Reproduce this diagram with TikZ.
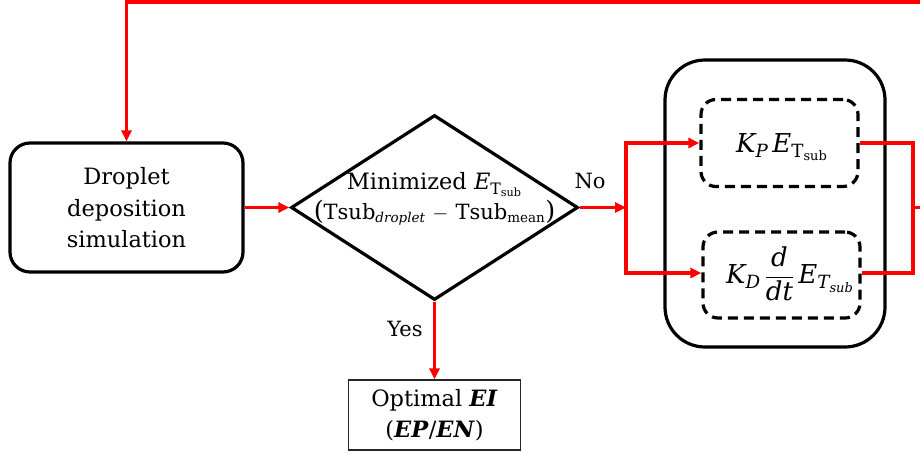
\documentclass[tikz,border=0pt]{standalone}
\usepackage{fontspec}
\setmainfont{DejaVu Serif}
\usetikzlibrary{arrows.meta,shapes.geometric}
\newcommand{\smallsub}[1]{\mbox{\fontsize{13.5}{15}\selectfont #1}}
\newcommand{\bigparen}[1]{\mbox{\fontsize{25.5}{30}\selectfont #1}}
\tikzset{
  blk/.style={draw=black, line width=3.2pt},
  roundbox/.style={blk, rounded corners=20pt, inner sep=0pt},
  dashbox/.style={draw=black, line width=3.2pt, dash pattern=on 10pt off 6pt, rounded corners=15pt, inner sep=0pt},
  flow/.style={draw=red, line width=3.2pt},
  flowarr/.style={flow, -{Triangle[length=11pt,width=10pt]}},
  txt/.style={font=\fontsize{22.5}{31.5}\selectfont, align=center, inner sep=0pt},
  mtxt/.style={font=\fontsize{26}{31.5}\selectfont, align=center, inner sep=0pt},
  lbl/.style={font=\fontsize{21}{26}\selectfont, inner sep=0pt}
}
\begin{document}
\begin{tikzpicture}[x=1pt,y=-1pt]
\useasboundingbox (0,0) rectangle (920,453);
% nodes
\node[roundbox, minimum width=233pt, minimum height=129pt] (sim) at (126.5,207.5) {};
\node[txt] (simtxt) at (126.5,208) {Droplet\\deposition\\simulation};
\node[blk, diamond, minimum width=287pt, minimum height=185pt, aspect=1.55, inner sep=0pt] (dec) at (434.5,207.5) {};
\node[txt] (dectxt) at (434.5,199) {Minimized $\mathit{E}_{\mathrm{T}_{\mathrm{sub}}}$\\[-2pt]{\fontsize{21}{31.5}\selectfont\bigparen{(}$\mathrm{Tsub}_{\smallsub{\itshape droplet}}\mskip2mu-\mskip2mu\mathrm{Tsub}_{\smallsub{mean}}$\bigparen{)}}};
\node[blk, rounded corners=40pt, minimum width=220pt, minimum height=287pt, inner sep=0pt] (outer) at (775,203.5) {};
\node[dashbox, minimum width=157pt, minimum height=87pt] (pbox) at (779.5,143) {};
\node[mtxt] (ptxt) at (782,147) {$\mathit{K}_{\mathit{P}}\,\mathit{E}_{\mathrm{T}_{\mathrm{sub}}}$};
\node[dashbox, minimum width=157pt, minimum height=86pt] (dbox) at (781.5,275) {};
\node[mtxt] (dtxt) at (790,274) {$\displaystyle\mathit{K}_{\mathit{D}}\,\frac{\mathit{d}}{\mathit{dt}}\,\mathit{E}_{\mathit{T}_{\mathit{sub}}}$};
\node[draw=black!85, line width=1.2pt, minimum width=172pt, minimum height=70pt, inner sep=0pt] (res) at (434.5,415) {};
\node[txt] (restxt) at (434.5,415) {Optimal \textbf{\textit{EI}}\\(\textbf{\textit{EP}}/\textbf{\textit{EN}})};
\node[lbl] (no) at (590,181) {No};
\node[lbl] (yes) at (405,329) {Yes};
% junction coordinates
\coordinate (split) at (626,207.5);
\coordinate (splittop) at (626,143);
\coordinate (splitbot) at (626,273);
\coordinate (mergetop) at (913,143);
\coordinate (mergebot) at (913,273);
\coordinate (mergemid) at (913,207.5);
\coordinate (edge) at (921,207.5);
\coordinate (topright) at (921,2);
\coordinate (topleft) at (126.5,2);
% connectors
\draw[flowarr] (sim.east) -- (dec.west);
\draw[flowarr] (dec.east) -- (split);
\draw[flow] ([yshift=1.6pt]splittop) -- ([yshift=-1.6pt]splitbot);
\draw[flowarr] ([xshift=-1.6pt]splittop) -- (pbox.west);
\draw[flowarr] ([xshift=-1.6pt]splitbot) -- (splitbot -| dbox.west);
\draw[flow] (pbox.east) -- (mergetop) -- (mergebot) -- (mergebot -| dbox.east);
\draw[flow] (mergemid) -- (edge);
\draw[flowarr] (topright) -- (topleft) -- (sim.north);
\draw[flowarr] (dec.south) -- (res.north);
\end{tikzpicture}
\end{document}
